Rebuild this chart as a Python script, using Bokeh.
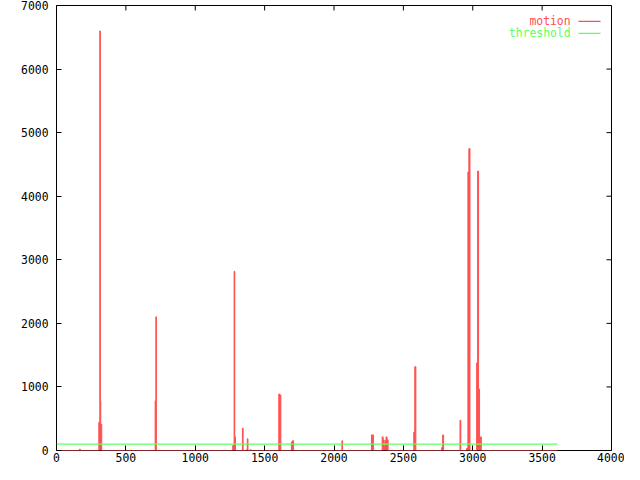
from bokeh.plotting import figure
from bokeh.models import Range1d, LinearAxis, FixedTicker, Label
from bokeh.embed import file_html
from bokeh.resources import INLINE

# ---- data ----
# motion: step series, value held from each time until the next one
motion_t = [0, 165, 172, 305, 312, 316, 319, 326,
            711, 716, 720,
            1270, 1280, 1285, 1290, 1340, 1345, 1370, 1375, 1380, 1398, 1402,
            1602, 1609, 1617, 1693, 1701, 1709,
            2057, 2062, 2270, 2284,
            2347, 2354, 2361, 2368, 2375, 2382, 2390,
            2575, 2582, 2590, 2776, 2783, 2790, 2908, 2914,
            2955, 2965, 2972, 2980,
            3028, 3035, 3042, 3049, 3055, 3062, 3610]
motion_v = [0, 20, 0, 444, 6600, 781, 413, 0,
            781, 2103, 0,
            77, 2818, 214, 0, 352, 0, 15, 184, 0, 15, 0,
            888, 873, 0, 133, 153, 0,
            153, 0, 245, 0,
            214, 168, 61, 153, 214, 168, 0,
            291, 1317, 0, 46, 245, 0, 475, 0,
            31, 4381, 4748, 0,
            1378, 4396, 965, 31, 214, 0, 0]
threshold_t = [0, 3610]
threshold_v = [100, 100]

x_ticks = [0, 500, 1000, 1500, 2000, 2500, 3000, 3500, 4000]
y_ticks = [0, 1000, 2000, 3000, 4000, 5000, 6000, 7000]
series_names = ["motion", "threshold"]

X0, X1 = 0, 4000
Y0, Y1 = 0, 7000

RED = "#ff5050"
GREEN = "#60ff60"
FONT = "DejaVu Sans Mono"
FS = "11.4px"

W, H = 624, 464
ML, MR, MT = 56, 13, 5

p = figure(width=W, height=H, output_backend="svg", toolbar_location=None,
           x_range=Range1d(X0, X1), y_range=Range1d(Y0, Y1),
           x_axis_location=None, y_axis_location=None,
           min_border_left=ML, min_border_right=MR, min_border_top=MT,
           min_border_bottom=0)
p.grid.visible = False
p.outline_line_color = "black"
p.outline_line_width = 1
p.background_fill_color = "white"
p.border_fill_color = "white"


def make_axis(ticks, standoff):
    ax = LinearAxis(ticker=FixedTicker(ticks=ticks))
    ax.major_tick_in = 5
    ax.major_tick_out = 0
    ax.minor_tick_in = 0
    ax.minor_tick_out = 0
    ax.major_tick_line_color = "black"
    ax.axis_line_color = None
    ax.major_label_text_font = FONT
    ax.major_label_text_font_size = FS
    ax.major_label_text_color = "black"
    ax.major_label_standoff = standoff
    return ax


p.add_layout(make_axis(x_ticks, 2), "below")
p.add_layout(make_axis(y_ticks, 8), "left")

# mirrored inward ticks on top and right borders (5 px long)
frame_w = W - ML - MR
frame_h = 447
tick_dy = 5 * (Y1 - Y0) / frame_h
tick_dx = 5 * (X1 - X0) / frame_w
p.segment(x0=x_ticks, y0=[Y1] * len(x_ticks), x1=x_ticks,
          y1=[Y1 - tick_dy] * len(x_ticks), line_color="black", line_width=1)
p.segment(x0=[X1] * len(y_ticks), y0=y_ticks, x1=[X1 - tick_dx] * len(y_ticks),
          y1=y_ticks, line_color="black", line_width=1)

p.varea_step(x=motion_t, y1=[0] * len(motion_t), y2=motion_v,
             step_mode="after", fill_color=RED)
p.step(x=motion_t, y=motion_v, mode="after", line_color=RED, line_width=1)
p.line(x=threshold_t, y=threshold_v, line_color=GREEN, line_width=1.2)

# legend (text left of sample line, as in the reference)
leg_x_text = 3705
leg_x0, leg_x1 = 3762, 3921
leg_rows = [6749, 6562]
for name, col, yy in zip(series_names, [RED, GREEN], leg_rows):
    p.add_layout(Label(x=leg_x_text, y=yy, text=name, text_align="right",
                       text_baseline="middle", text_font=FONT,
                       text_font_size=FS, text_color=col))
    p.line(x=[leg_x0, leg_x1], y=[yy, yy], line_color=col, line_width=1.2)

open("out.html", "w").write(file_html(p, INLINE))
